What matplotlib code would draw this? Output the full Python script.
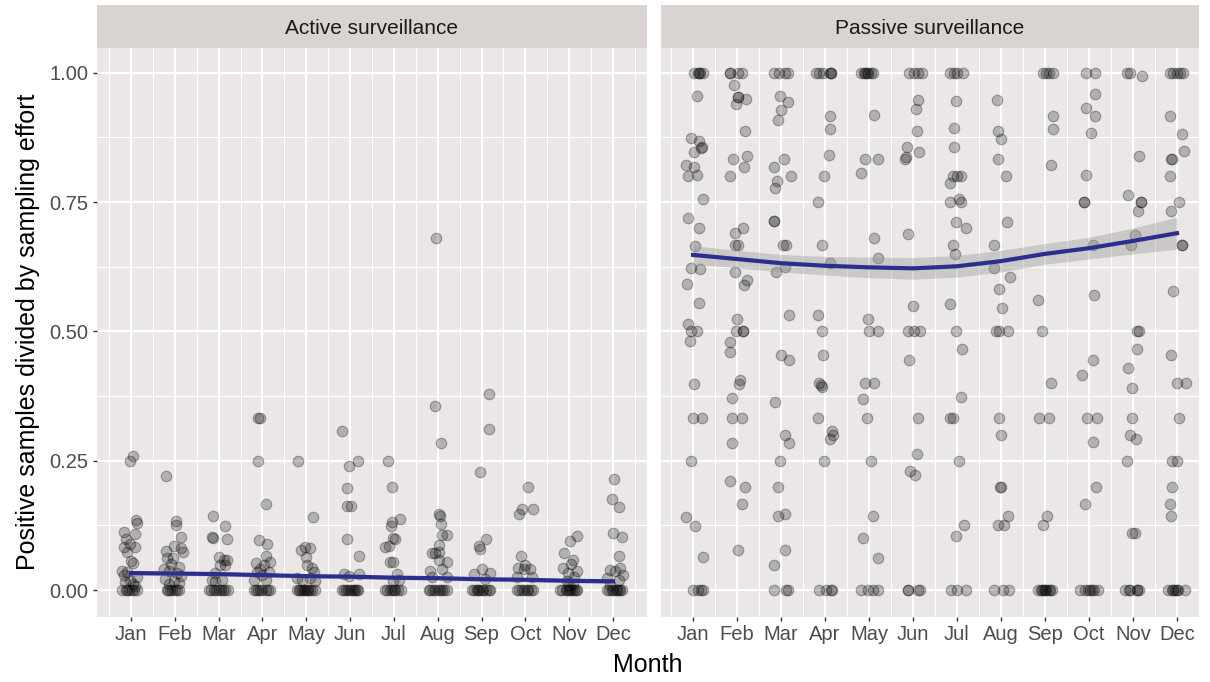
import numpy as np
import matplotlib.pyplot as plt

plt.rcParams['font.family'] = ['Liberation Sans', 'DejaVu Sans']

month_labels = ['Jan', 'Feb', 'Mar', 'Apr', 'May', 'Jun',
                'Jul', 'Aug', 'Sep', 'Oct', 'Nov', 'Dec']
panel_titles = ['Active surveillance', 'Passive surveillance']

# active surveillance: jittered month position and positives / effort
act_x = [
    1.04, 0.98, 1.11, 1.14, 0.83, 1.10, 0.89, 0.83, 0.98, 1.08, 0.92, 1.01, 1.05, 0.79, 0.83, 0.91, 1.14, 1.05, 1.09, 0.79, 0.91, 1.14, 0.98, 0.86, 1.07, 0.88, 0.95, 1.02,
    1.81, 2.03, 2.03, 2.15, 1.99, 2.14, 2.18, 1.80, 1.83, 1.96, 1.91, 2.09, 1.75, 1.86, 2.05, 2.13, 1.78, 1.97, 1.86, 2.09, 1.82, 1.94, 2.05, 1.85, 1.90, 2.00, 2.10,
    2.87, 3.15, 2.85, 2.87, 3.18, 3.00, 3.12, 3.19, 3.04, 3.15, 2.92, 2.85, 2.92, 3.08, 2.77, 2.89, 3.00, 3.15, 3.21, 2.82, 2.95, 3.05, 3.10,
    3.90, 3.95, 3.89, 4.08, 3.92, 4.11, 4.09, 4.18, 4.03, 3.86, 3.95, 3.88, 3.99, 4.14, 3.80, 4.07, 3.80, 3.95, 4.07, 4.18, 3.85, 3.90, 4.00, 4.12,
    4.81, 5.16, 4.87, 4.96, 5.08, 5.00, 5.02, 5.13, 5.17, 4.79, 4.90, 5.09, 5.21, 4.79, 4.94, 5.09, 5.21, 4.86, 5.02, 4.83, 4.90, 4.98, 5.05, 5.14,
    5.82, 5.98, 6.18, 5.93, 5.92, 6.01, 5.93, 6.20, 5.86, 5.97, 6.20, 5.82, 5.91, 6.00, 6.09, 6.16, 5.85, 5.95, 6.04, 6.12, 6.19,
    6.87, 6.95, 7.14, 6.95, 6.94, 6.98, 7.03, 6.80, 6.89, 6.90, 6.97, 7.07, 7.12, 6.98, 6.80, 6.91, 7.03, 7.16, 6.84, 6.95, 7.00, 7.09,
    7.96, 7.94, 8.08, 8.02, 8.05, 8.07, 8.09, 8.21, 8.04, 7.87, 7.94, 8.02, 8.21, 8.02, 8.09, 7.83, 8.21, 7.87, 7.79, 7.94, 8.09, 8.21, 7.83, 7.90, 8.00, 8.05, 8.15,
    9.16, 9.16, 8.97, 9.11, 8.95, 8.97, 9.01, 9.20, 8.82, 9.08, 8.78, 8.89, 9.04, 9.16, 8.92, 8.83, 8.95, 9.00, 9.10, 9.20,
    10.05, 9.86, 9.93, 10.18, 9.90, 10.00, 9.84, 10.11, 9.96, 10.15, 9.81, 9.81, 9.92, 10.03, 10.17, 9.86, 9.96, 10.07, 10.12,
    11.18, 11.01, 10.89, 11.08, 11.05, 10.87, 11.18, 10.98, 11.10, 10.95, 10.79, 10.95, 11.06, 11.18, 11.00, 11.09, 10.84, 10.92, 11.00, 11.03, 11.12, 11.15,
    12.03, 11.97, 12.13, 12.00, 12.20, 12.13, 11.94, 12.05, 12.16, 12.23, 11.86, 12.13, 11.86, 12.01, 12.13, 12.20, 11.94, 11.90, 11.98, 12.06, 12.10, 12.17,
]
act_y = [
    0.26, 0.25, 0.135, 0.13, 0.113, 0.108, 0.099, 0.084, 0.09, 0.084, 0.074, 0.056, 0.053, 0.037, 0.03, 0.035, 0.026, 0.012, 0.008, 0.0, 0.0, 0.0, 0.02, 0.015, 0.0, 0.0, 0.0, 0.0,
    0.221, 0.134, 0.126, 0.102, 0.086, 0.081, 0.074, 0.075, 0.062, 0.062, 0.051, 0.045, 0.040, 0.037, 0.034, 0.028, 0.021, 0.018, 0.012, 0.013, 0.0, 0.0, 0.0, 0.0, 0.0, 0.0, 0.0,
    0.143, 0.124, 0.103, 0.100, 0.099, 0.064, 0.059, 0.059, 0.048, 0.048, 0.033, 0.020, 0.017, 0.020, 0.0, 0.0, 0.0, 0.0, 0.0, 0.0, 0.0, 0.0, 0.0,
    0.333, 0.333, 0.25, 0.166, 0.097, 0.090, 0.066, 0.055, 0.048, 0.052, 0.040, 0.035, 0.030, 0.035, 0.020, 0.020, 0.0, 0.0, 0.0, 0.0, 0.0, 0.0, 0.0, 0.0,
    0.25, 0.142, 0.077, 0.084, 0.081, 0.064, 0.048, 0.042, 0.035, 0.023, 0.020, 0.023, 0.018, 0.0, 0.0, 0.0, 0.0, 0.0, 0.0, 0.0, 0.0, 0.0, 0.0, 0.0,
    0.307, 0.239, 0.25, 0.197, 0.163, 0.163, 0.099, 0.066, 0.031, 0.028, 0.031, 0.0, 0.0, 0.0, 0.0, 0.0, 0.0, 0.0, 0.0, 0.0, 0.0,
    0.25, 0.199, 0.137, 0.132, 0.124, 0.101, 0.099, 0.084, 0.086, 0.055, 0.055, 0.031, 0.020, 0.018, 0.0, 0.0, 0.0, 0.0, 0.0, 0.0, 0.0, 0.0,
    0.68, 0.356, 0.285, 0.148, 0.143, 0.127, 0.106, 0.106, 0.088, 0.072, 0.071, 0.074, 0.054, 0.058, 0.040, 0.037, 0.025, 0.025, 0.0, 0.0, 0.0, 0.0, 0.0, 0.0, 0.0, 0.0, 0.0,
    0.380, 0.311, 0.228, 0.099, 0.085, 0.080, 0.040, 0.033, 0.031, 0.022, 0.0, 0.0, 0.0, 0.0, 0.0, 0.0, 0.0, 0.0, 0.0, 0.0,
    0.199, 0.147, 0.156, 0.156, 0.066, 0.048, 0.042, 0.040, 0.040, 0.025, 0.025, 0.0, 0.0, 0.0, 0.0, 0.0, 0.0, 0.0, 0.0,
    0.104, 0.095, 0.072, 0.059, 0.050, 0.043, 0.036, 0.033, 0.026, 0.018, 0.0, 0.0, 0.0, 0.0, 0.010, 0.012, 0.0, 0.0, 0.0, 0.0, 0.0, 0.0,
    0.214, 0.177, 0.160, 0.110, 0.102, 0.066, 0.038, 0.036, 0.042, 0.030, 0.024, 0.020, 0.0, 0.0, 0.0, 0.0, 0.010, 0.0, 0.0, 0.0, 0.0, 0.0,
]

# passive surveillance
pas_x = [
    1.03, 1.11, 1.17, 1.22, 1.08, 0.95, 1.13, 1.20, 1.18, 1.02, 0.84, 1.03, 0.89, 1.09, 1.22, 0.89, 1.14, 1.05, 0.95, 1.17, 0.86, 1.13, 0.88, 0.95, 1.09, 0.94, 1.03, 1.01, 1.20, 0.95, 0.84, 1.05, 1.22, 0.99, 1.12, 1.18, 1.22, 1.14,
    1.83, 1.83, 2.02, 2.11, 1.94, 2.02, 2.02, 1.98, 2.20, 2.19, 1.92, 2.22, 2.15, 1.85, 1.95, 2.13, 1.95, 2.03, 1.95, 2.22, 2.17, 2.00, 1.98, 2.13, 2.13, 1.85, 1.84, 2.07, 2.05, 1.89, 1.88, 2.11, 1.88, 1.85, 2.19, 2.11, 2.02,
    2.85, 2.96, 3.09, 3.15, 2.98, 3.17, 3.00, 2.94, 3.06, 2.83, 3.23, 2.90, 2.86, 2.85, 2.85, 3.04, 3.11, 3.08, 2.89, 3.19, 3.00, 3.19, 2.87, 3.09, 3.19, 2.98, 2.94, 2.94, 3.08, 3.09, 2.85, 2.83, 3.11, 3.15,
    3.80, 3.87, 3.95, 4.11, 4.14, 4.12, 4.12, 4.10, 3.98, 3.83, 3.93, 4.12, 3.85, 3.93, 3.95, 3.87, 3.91, 3.93, 3.83, 4.15, 4.18, 4.11, 3.98, 3.87, 4.02, 4.15, 4.13, 4.13,
    4.82, 4.91, 4.98, 5.08, 4.88, 5.11, 4.91, 5.20, 4.82, 5.11, 5.20, 4.97, 5.01, 5.20, 4.91, 5.12, 4.87, 4.95, 5.05, 5.10, 4.86, 5.20, 4.82, 4.98, 5.08, 5.20, 4.95, 5.05,
    5.92, 6.03, 6.12, 6.20, 6.12, 6.07, 6.08, 5.86, 6.14, 5.84, 5.82, 5.88, 6.01, 5.88, 6.03, 6.17, 5.92, 6.12, 6.08, 5.94, 6.05, 5.88, 5.88, 6.11, 6.17,
    6.84, 6.93, 7.01, 7.14, 6.98, 6.93, 6.93, 6.90, 6.99, 7.08, 6.84, 7.05, 6.84, 7.09, 6.98, 7.20, 6.90, 6.95, 6.84, 6.97, 7.11, 7.08, 6.90, 6.84, 7.05, 7.17, 6.97, 6.86, 7.01, 7.20,
    7.92, 7.94, 8.00, 7.94, 8.11, 8.14, 7.85, 7.83, 8.20, 7.96, 8.02, 7.88, 7.95, 8.17, 7.96, 7.99, 7.98, 7.99, 8.17, 7.94, 8.07, 7.83, 8.05, 8.18,
    8.95, 9.02, 9.10, 9.19, 9.19, 9.19, 9.14, 8.83, 8.94, 9.13, 8.87, 9.10, 9.05, 8.96, 8.85, 8.93, 9.00, 9.08, 9.15, 8.98, 8.90, 9.03, 9.12,
    9.93, 10.14, 10.14, 9.93, 10.13, 10.04, 9.93, 9.89, 9.89, 10.10, 10.12, 10.08, 9.85, 9.96, 10.19, 10.08, 10.16, 9.91, 9.80, 9.91, 10.02, 10.11, 10.21, 9.97, 10.06,
    10.86, 10.93, 11.21, 11.14, 10.88, 11.18, 11.18, 11.12, 11.05, 10.95, 11.08, 11.14, 11.08, 10.89, 10.97, 10.97, 10.93, 11.07, 10.87, 10.97, 11.05, 10.82, 10.93, 11.08, 11.14, 10.90, 11.10,
    11.84, 11.92, 11.99, 12.07, 12.14, 11.83, 12.12, 12.16, 11.86, 11.89, 11.84, 12.05, 11.86, 12.11, 12.11, 11.92, 11.86, 11.99, 12.20, 12.05, 11.88, 11.99, 11.89, 11.83, 11.86, 11.80, 11.88, 11.95, 12.03, 12.18, 11.92, 12.00,
]
pas_y = [
    1, 1, 1, 1, 0.955, 0.874, 0.869, 0.857, 0.855, 0.846, 0.822, 0.818, 0.80, 0.803, 0.756, 0.719, 0.70, 0.665, 0.623, 0.62, 0.591, 0.555, 0.515, 0.5, 0.5, 0.482, 0.398, 0.333, 0.333, 0.25, 0.142, 0.124, 0.064, 0, 0, 0, 0, 1,
    1, 1, 1, 1, 0.977, 0.954, 0.954, 0.939, 0.949, 0.888, 0.833, 0.839, 0.817, 0.80, 0.691, 0.70, 0.667, 0.667, 0.614, 0.60, 0.59, 0.524, 0.5, 0.5, 0.5, 0.48, 0.46, 0.406, 0.398, 0.371, 0.333, 0.333, 0.284, 0.21, 0.2, 0.167, 0.077,
    1, 1, 1, 1, 0.955, 0.943, 0.928, 0.909, 0.833, 0.817, 0.8, 0.79, 0.777, 0.714, 0.714, 0.667, 0.667, 0.625, 0.614, 0.532, 0.455, 0.444, 0.364, 0.3, 0.284, 0.25, 0.2, 0.143, 0.148, 0.077, 0.048, 0, 0, 0,
    1, 1, 1, 1, 1, 0.916, 0.892, 0.841, 0.8, 0.75, 0.667, 0.632, 0.532, 0.5, 0.455, 0.4, 0.397, 0.392, 0.333, 0.307, 0.3, 0.293, 0.25, 0, 0, 0, 0, 1,
    1, 1, 1, 1, 1, 0.919, 0.833, 0.833, 0.806, 0.681, 0.642, 0.524, 0.5, 0.5, 0.4, 0.4, 0.369, 0.333, 0.25, 0.143, 0.1, 0.062, 0, 0, 0, 0, 1, 1,
    1, 1, 1, 1, 0.947, 0.93, 0.888, 0.857, 0.846, 0.837, 0.833, 0.688, 0.549, 0.5, 0.5, 0.5, 0.444, 0.333, 0.264, 0.23, 0.222, 0, 0, 0, 0,
    1, 1, 1, 1, 0.946, 0.893, 0.857, 0.8, 0.8, 0.8, 0.787, 0.756, 0.75, 0.75, 0.712, 0.7, 0.667, 0.649, 0.553, 0.5, 0.466, 0.373, 0.333, 0.333, 0.25, 0.125, 0.104, 0, 0, 0,
    0.948, 0.888, 0.872, 0.833, 0.8, 0.712, 0.667, 0.622, 0.605, 0.582, 0.545, 0.5, 0.5, 0.5, 0.333, 0.3, 0.2, 0.2, 0.143, 0.125, 0.125, 0, 0, 0,
    1, 1, 1, 1, 0.916, 0.891, 0.822, 0.561, 0.5, 0.4, 0.333, 0.333, 0.143, 0.125, 0, 0, 0, 0, 0, 0, 0, 0, 0,
    1, 1, 0.959, 0.932, 0.916, 0.883, 0.803, 0.75, 0.75, 0.667, 0.571, 0.444, 0.416, 0.333, 0.333, 0.286, 0.2, 0.167, 0, 0, 0, 0, 0, 0, 0,
    1, 1, 0.994, 0.839, 0.764, 0.75, 0.75, 0.732, 0.687, 0.667, 0.5, 0.5, 0.466, 0.429, 0.39, 0.333, 0.3, 0.293, 0.25, 0.111, 0.111, 0, 0, 0, 0, 0, 0,
    1, 1, 1, 1, 1, 0.916, 0.882, 0.848, 0.833, 0.833, 0.8, 0.75, 0.732, 0.667, 0.667, 0.579, 0.455, 0.4, 0.4, 0.333, 0.25, 0.25, 0.2, 0.167, 0.143, 0, 0, 0, 0, 0, 0, 0,
]

# smoothed fit per month with its standard error band
act_fit = [0.033, 0.032, 0.031, 0.029, 0.027, 0.026, 0.024, 0.023, 0.021, 0.020, 0.018, 0.017]
act_se = [0.005, 0.004, 0.004, 0.004, 0.004, 0.004, 0.004, 0.004, 0.004, 0.004, 0.004, 0.005]
pas_fit = [0.648, 0.640, 0.632, 0.627, 0.624, 0.622, 0.626, 0.636, 0.650, 0.661, 0.675, 0.690]
pas_se = [0.018, 0.017, 0.017, 0.018, 0.020, 0.021, 0.021, 0.021, 0.020, 0.021, 0.025, 0.031]

W, H = 1210, 682
fig = plt.figure(figsize=(W / 100, H / 100), dpi=100)


def px_box(x0, y0, x1, y1):
    # pixel box (top-left origin) -> figure fraction rect
    return [x0 / W, 1 - y1 / H, (x1 - x0) / W, (y1 - y0) / H]


panel_bg = '#EBE7E6'
strip_bg = '#D9D3D1'
months = np.arange(1, 13)

panels = [
    (97, 647, (0.224, 12.776), act_x, act_y, act_fit, act_se, True),
    (661, 1199, (0.273, 12.5), pas_x, pas_y, pas_fit, pas_se, False),
]

for (x0, x1, xlim, xs, ys, fit, se, show_y), title in zip(panels, panel_titles):
    ax = fig.add_axes(px_box(x0, 48, x1, 617))
    ax.set_facecolor(panel_bg)
    ax.set_xlim(*xlim)
    ax.set_ylim(-0.052, 1.048)
    ax.set_xticks(months)
    ax.set_xticklabels(month_labels)
    ax.set_xticks(np.arange(0.5, 13, 1), minor=True)
    ax.set_yticks([0, 0.25, 0.5, 0.75, 1])
    ax.set_yticks([0.125, 0.375, 0.625, 0.875], minor=True)
    ax.grid(which='major', color='white', lw=1.5)
    ax.grid(which='minor', color='white', lw=0.75)
    ax.set_axisbelow(True)
    for s in ax.spines.values():
        s.set_visible(False)
    ax.tick_params(which='minor', length=0)
    ax.tick_params(which='major', length=3, width=1, color='#333333',
                   labelsize=14.5, labelcolor='#4D4D4D', pad=3)
    if show_y:
        ax.set_yticklabels(['0.00', '0.25', '0.50', '0.75', '1.00'])
    else:
        ax.tick_params(axis='y', which='both', left=False, labelleft=False)

    ax.scatter(xs, ys, s=58, facecolor=(0, 0, 0, 0.24), edgecolor=(0, 0, 0, 0.3),
               linewidths=0.8, zorder=3)
    fit = np.array(fit)
    se = np.array(se)
    ax.fill_between(months, fit - se, fit + se, color='#999999', alpha=0.4, lw=0, zorder=4)
    ax.plot(months, fit, color='#2B2E8F', lw=3, zorder=5)

    sax = fig.add_axes(px_box(x0, 5, x1, 48))
    sax.set_facecolor(strip_bg)
    sax.set_xticks([])
    sax.set_yticks([])
    for s in sax.spines.values():
        s.set_visible(False)
    sax.text(0.5, 0.45, title, ha='center', va='center', fontsize=15,
             color='#1A1A1A', transform=sax.transAxes)

fig.text(648 / W, 1 - 665 / H, 'Month', ha='center', va='center', fontsize=18)
fig.text(28 / W, 1 - 332 / H, 'Positive samples divided by sampling effort',
         rotation=90, ha='center', va='center', fontsize=18)

fig.savefig('out.png', dpi=100)
